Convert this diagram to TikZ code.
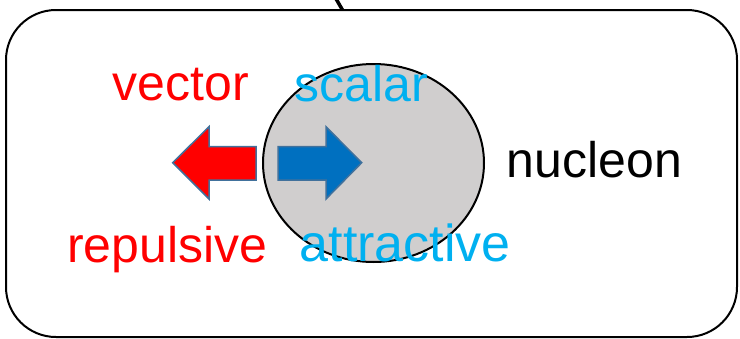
\documentclass[tikz,border=0pt]{standalone}
\usepackage{fontspec}
\setmainfont{Liberation Sans}
\usepackage{tikz}
\usetikzlibrary{shapes.geometric,positioning}
\definecolor{ncred}{HTML}{FF0000}
\definecolor{nccyan}{HTML}{00B0F0}
\definecolor{ncblue}{HTML}{0070C0}
\definecolor{ncgray}{HTML}{D0CECE}
\definecolor{ncedge}{HTML}{41719C}

\begin{document}
\begin{tikzpicture}[x=1pt, y=-1pt,
  frame/.style={draw=black, line width=2pt, rounded corners=50pt,
                minimum width=731pt, minimum height=327pt, inner sep=0pt},
  core/.style={ellipse, draw=black, line width=2pt, fill=ncgray,
               minimum width=221pt, minimum height=198pt, inner sep=0pt},
  word/.style={anchor=base west, inner sep=0pt, font=\fontsize{50}{60}\selectfont},
  fatarrow/.style={draw=ncedge, line width=1.5pt, line join=miter}
]
\useasboundingbox (0,0) rectangle (740,338);

% Frame and nucleon
\node[frame] (box) at (371.5,173.5) {};
\coordinate (src) at (335,-3);
\coordinate (hit) at (342.5,10);
\draw[line width=3.5pt] (src) -- (hit);
\node[core] (nucleus) at (373.5,163) {};

% Arrows
\draw[fatarrow, fill=ncred] (172.7,162.7) -- (209,126.7) -- (209,146.7) -- (256,146.7)
  -- (256,180) -- (209,180) -- (209,199) -- cycle;
\draw[fatarrow, fill=ncblue] (278,146.7) -- (326,146.7) -- (326,126.7) -- (361.7,162.7)
  -- (326,199) -- (326,180) -- (278,180) -- cycle;

% Labels
\node[word, text=ncred] (vector) at (112.5,100) {vector};
\node[word, text=nccyan] (scalar) at (294.5,101.5) {scalar};
\node[word, text=ncred] (repulsive) at (67,262.5) {repulsive};
\node[word, text=nccyan, font=\fontsize{52}{60}\selectfont] (attractive) at (299.5,261) {attractive};
\node[word] (nucleon) at (506.5,177) {nucleon};
\end{tikzpicture}
\end{document}
